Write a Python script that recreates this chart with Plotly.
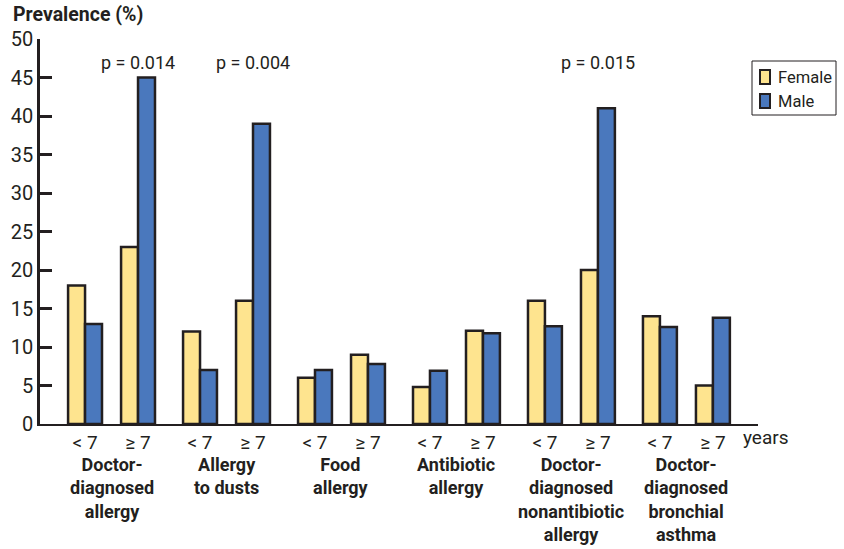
import plotly.graph_objects as go

# Prevalence (%) by condition, age band and sex
conditions = [
    "Doctor-<br>diagnosed<br>allergy",
    "Allergy<br>to dusts",
    "Food<br>allergy",
    "Antibiotic<br>allergy",
    "Doctor-<br>diagnosed<br>nonantibiotic<br>allergy",
    "Doctor-<br>diagnosed<br>bronchial<br>asthma",
]
age_bands = ["< 7", "≥ 7"]
female = [18, 23, 12, 16, 6, 9, 4.8, 12.1, 16, 20, 14, 5]
male = [13, 45, 7, 39, 7, 7.8, 6.9, 11.8, 12.7, 41, 12.6, 13.8]
p_values = {1: "p = 0.014", 3: "p = 0.004", 9: "p = 0.015"}
series_names = ["Female", "Male"]
series_colors = ["#fee48f", "#4a78bd"]

INK = "#231f20"
FONT = "Roboto, sans-serif"
GROUP_STEP = 115 / 53  # spacing between condition groups, in age-band units

W, H = 844, 549
M_L, M_R, M_T, M_B = 40, 86, 39, 125
PLOT_W, PLOT_H = W - M_L - M_R, H - M_T - M_B


def px_x(px):
    """Horizontal pixel -> paper coordinate."""
    return (px - M_L) / PLOT_W


def px_y(py):
    """Vertical pixel (from top) -> paper coordinate."""
    return (H - M_B - py) / PLOT_H


x_pos = [i * GROUP_STEP + j for i in range(len(conditions)) for j in range(len(age_bands))]
tick_text = [age_bands[j] for i in range(len(conditions)) for j in range(len(age_bands))]

fig = go.Figure()
for name, color, values in zip(series_names, series_colors, [female, male]):
    fig.add_trace(go.Bar(
        x=x_pos, y=values, name=name, showlegend=False,
        marker=dict(color=color, line=dict(color=INK, width=2.5)),
    ))

annotations = []
shapes = []
# p-value labels above the older age band
for idx, txt in p_values.items():
    annotations.append(dict(
        x=x_pos[idx], y=46.9, xref="x", yref="y", text=txt, showarrow=False,
        font=dict(size=18, color=INK, family=FONT), xanchor="center", yanchor="middle",
    ))
# condition names under each pair of age bands
for i, name in enumerate(conditions):
    annotations.append(dict(
        x=i * GROUP_STEP + 0.5, y=-0.072, xref="x", yref="paper", text=name,
        showarrow=False, align="center", xanchor="center", yanchor="top",
        font=dict(size=18, color=INK, family=FONT, weight="bold"),
    ))
annotations.append(dict(
    x=12.37, y=-0.036, xref="x", yref="paper", text="years", showarrow=False,
    xanchor="left", yanchor="middle", font=dict(size=19, color=INK, family=FONT),
))
annotations.append(dict(
    x=px_x(11), y=px_y(15), xref="paper", yref="paper", text="<b>Prevalence (%)</b>",
    showarrow=False, xanchor="left", yanchor="middle",
    font=dict(size=19.5, color=INK, family=FONT),
))

# legend box with swatches
shapes.append(dict(
    type="rect", xref="paper", yref="paper",
    x0=px_x(752), x1=px_x(836), y0=px_y(115), y1=px_y(61),
    line=dict(color=INK, width=1), fillcolor="white",
))
for k, (name, color) in enumerate(zip(series_names, series_colors)):
    cy = 77 + 24 * k
    shapes.append(dict(
        type="rect", xref="paper", yref="paper",
        x0=px_x(760), x1=px_x(770), y0=px_y(cy + 7), y1=px_y(cy - 7),
        line=dict(color=INK, width=2), fillcolor=color,
    ))
    annotations.append(dict(
        x=px_x(776), y=px_y(cy), xref="paper", yref="paper", text=name,
        showarrow=False, xanchor="left", yanchor="middle",
        font=dict(size=16.5, color=INK, family=FONT),
    ))

fig.update_layout(
    width=W, height=H,
    margin=dict(l=M_L, r=M_R, t=M_T, b=M_B, autoexpand=False),
    paper_bgcolor="white", plot_bgcolor="white",
    barmode="group", bargap=0.36, bargroupgap=0,
    font=dict(family=FONT, color=INK),
    xaxis=dict(
        range=[-0.85, 12.7], tickvals=x_pos, ticktext=tick_text,
        showline=True, linecolor=INK, linewidth=2, showgrid=False, zeroline=False,
        ticks="", tickfont=dict(size=19, color=INK, family=FONT),
    ),
    yaxis=dict(
        range=[0, 50], tickvals=list(range(0, 51, 5)),
        showline=True, linecolor=INK, linewidth=2.5, showgrid=False, zeroline=False,
        ticks="inside", ticklen=12, tickwidth=2.5, tickcolor=INK,
        tickfont=dict(size=20, color=INK, family=FONT),
    ),
    shapes=shapes,
    annotations=annotations,
    showlegend=False,
)

fig.write_html("out.html")
